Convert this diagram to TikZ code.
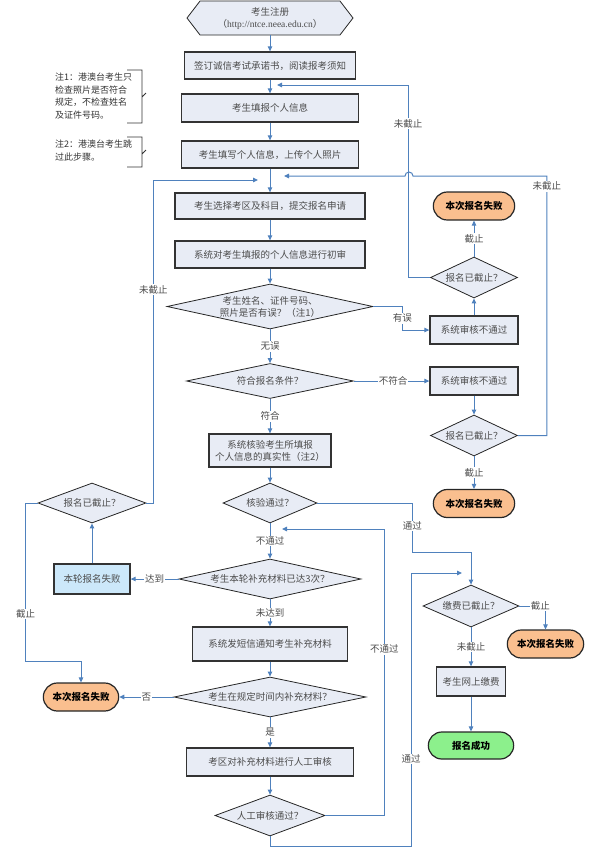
\documentclass[tikz,border=0pt]{standalone}
\usepackage{fontspec}
\setmainfont{Noto Sans CJK SC}
\newfontfamily\urlfont{Liberation Serif}
\usepackage{tikz}
\usetikzlibrary{arrows.meta,calc,shapes.geometric,shapes.misc,shapes.symbols}
\definecolor{linkblue}{RGB}{79,129,189}
\definecolor{stepfill}{RGB}{232,236,245}
\definecolor{failfill}{RGB}{250,191,143}
\definecolor{donefill}{RGB}{140,240,140}
\definecolor{roundfill}{RGB}{204,232,250}

\begin{document}
\begin{tikzpicture}[
    x=1pt,y=-1pt,
    >={Triangle[width=4.5pt,length=5pt]},
    font=\fontsize{9.5}{12}\selectfont,
    box/.style n args={2}{draw=black!80,line width=1.3pt,fill=stepfill,text=black!70,
      align=center,inner sep=1pt,minimum width=#1,minimum height=#2},
    dia/.style n args={3}{diamond,draw=black!85,line width=.8pt,fill=stepfill,text=black!70,
      align=center,inner sep=0pt,minimum width=#1,minimum height=#2,aspect=#3},
    term/.style n args={3}{rounded rectangle,draw=black!85,line width=1.2pt,fill=#3,
      font=\fontsize{9.5}{12}\selectfont\bfseries,minimum width=#1,minimum height=#2},
    hexa/.style={signal,signal to=west and east,signal pointer angle=105,draw=black!85,
      line width=.8pt,fill=stepfill,text=black!70,align=center,inner sep=1pt,
      minimum width=166,minimum height=34},
    ln/.style={linkblue,line width=1pt},
    lbl/.style={fill=white,text=black!70,inner sep=1pt},
    note/.style={text=black!80,align=left,anchor=north west,inner sep=0pt,
      font=\fontsize{9}{12.5}\selectfont}
  ]
  \useasboundingbox (0,0) rectangle (590,855);

  % Main column
  \node[hexa] (reg) at (270,18) {考生注册\\（{\urlfont http://ntce.neea.edu.cn}）};
  \node[box={171}{27}] (sign)  at (270,65.5)  {签订诚信考试承诺书，阅读报考须知};
  \node[box={177}{28}] (fill)  at (270,108)   {考生填报个人信息};
  \node[box={177}{27}] (photo) at (270,154.5) {考生填写个人信息，上传个人照片};
  \node[box={190}{26}] (pick)  at (270,206)   {考生选择考区及科目，提交报名申请};
  \node[box={190}{27}] (check) at (270,254.5) {系统对考生填报的个人信息进行初审};
  \node[dia={206}{45}{4.6}] (dErr) at (270,306.5) {考生姓名、证件号码、\\照片是否有误？（注1）};
  \node[dia={167}{35}{4.8}] (dCond) at (270,381) {符合报名条件？};
  \node[box={122}{33}] (verify) at (270,450.5) {系统核验考生所填报\\个人信息的真实性（注2）};
  \node[dia={94}{40}{2.35}] (dVerify) at (270,503) {核验通过？};
  \node[dia={182}{40}{4.5}] (dThree) at (270,579) {考生本轮补充材料已达3次？};
  \node[box={155}{34}] (sms) at (270,644) {系统发短信通知考生补充材料};
  \node[dia={192}{40}{4.8}] (dSupply) at (270,697) {考生在规定时间内补充材料？};
  \node[box={167}{28}] (manual) at (270,762) {考区对补充材料进行人工审核};
  \node[dia={110}{41}{2.7}] (dManual) at (270,815.5) {人工审核通过？};

  % Right column
  \node[term={88}{28}{failfill}] (failA) at (474,206) {本次报名失败};
  \node[dia={87}{41}{2.1}] (dLate1) at (474,277.5) {报名已截止？};
  \node[box={88}{28}] (rejA) at (474,330) {系统审核不通过};
  \node[box={88}{28}] (rejB) at (474,381) {系统审核不通过};
  \node[dia={87}{41}{2.1}] (dLate2) at (474,435.5) {报名已截止？};
  \node[term={88}{28}{failfill}] (failB) at (474,503.5) {本次报名失败};
  \node[dia={96}{42}{2.3}] (dFee) at (471,606) {缴费已截止？};
  \node[term={83}{28}{failfill}] (failR) at (545.5,644) {本次报名失败};
  \node[box={69}{29}] (pay) at (471,681.5) {考生网上缴费};
  \node[term={92}{27}{donefill}] (done) at (471,745.5) {报名成功};

  % Left column
  \node[dia={108}{40}{2.7}] (dLate3) at (92,503) {报名已截止？};
  \node[box={76}{30},fill=roundfill] (roundFail) at (92,579) {本轮报名失败};
  \node[term={82}{28}{failfill}] (failL) at (81,697) {本次报名失败};

  % Notes
  \node[note] (note1) at (55,73) {注1：港澳台考生只\\检查照片是否符合\\规定，不检查姓名\\及证件号码。};
  \node[note] (note2) at (55,140) {注2：港澳台考生跳\\过此步骤。};
  \draw[black!80,line width=.8pt] (127,70) -| (142,123) -- (127,123) (142,97) -- (146,93);
  \draw[black!80,line width=.8pt] (127,137) -| (142,167) -- (127,167) (142,154) -- (146,150);

  % Merge points on the main column
  \coordinate (in1) at (277,85);
  \coordinate (in2) at (284,176);
  \coordinate (in3) at (258,180);
  \coordinate (in4) at (282,529);
  \coordinate (in5) at (462,573);
  \coordinate (hop) at (409,176);

  % Plain arrows
  \foreach \a/\b in {reg/sign,sign/fill,fill/photo,photo/pick,pick/check,check/dErr,
                     verify/dVerify,sms/dSupply,manual/dManual,rejB/dLate2,pay/done}
    \draw[ln,->] (\a.south) -- (\b.north);
  \foreach \a/\b in {rejA/dLate1,roundFail/dLate3}
    \draw[ln,->] (\a.north) -- (\b.south);
  % Labelled arrows
  \foreach \a/\b/\t in {dErr/dCond/无误,dCond/verify/符合,dVerify/dThree/不通过,
                        dThree/sms/未达到,dSupply/manual/是,dFee/pay/未截止,dLate2/failB/截止}
    \draw[ln,->] (\a.south) -- node[lbl]{\t} (\b.north);
  \draw[ln,->] (dLate1.north) -- node[lbl]{截止} (failA.south);
  \draw[ln,->] (dCond.east) -- node[lbl,pos=.52]{不符合} (rejB.west);
  \draw[ln,->] (dThree.west) -- node[lbl]{达到} (roundFail.east);
  \draw[ln,->] (dSupply.west) -- node[lbl]{否} (failL.east);
  \draw[ln,->] (dErr.east) -- ++(29,0) |- node[pos=.25,lbl]{有误} (rejA.west);
  \draw[ln,->] (dFee.east) -| node[pos=.4,lbl]{截止} (failR.north);

  % Loops back
  \draw[ln,->] (dLate1.west) -- ++(-22,0) |- node[pos=.4,lbl]{未截止} (in1);
  \draw[ln,->] (dLate2.east) -- ++(29,0) |- node[pos=.48,lbl]{未截止} ([xshift=4pt]hop)
    arc[start angle=0,end angle=-180,radius=4] -- (in2);
  \draw[ln,->] (dLate3.east) -- ++(7,0) |- node[pos=.33,lbl]{未截止} (in3);
  \draw[ln,->] (dLate3.west) -- ++(-12,0) |- node[pos=.35,lbl]{截止} ($(failL.north)+(0,-21)$)
    -- (failL.north);
  \draw[ln,->] (dManual.east) -- ++(59,0) |- node[pos=.29,lbl]{不通过} (in4);

  % Towards payment
  \draw[ln,->] (dVerify.east) -- ++(95,0) -- node[pos=.47,lbl]{通过} ++(0,49) -| (dFee.north);
  \draw[ln,->] (dManual.south) -- ++(0,10) -- ++(141,0) |- node[pos=.16,lbl]{通过} (in5);
\end{tikzpicture}
\end{document}
